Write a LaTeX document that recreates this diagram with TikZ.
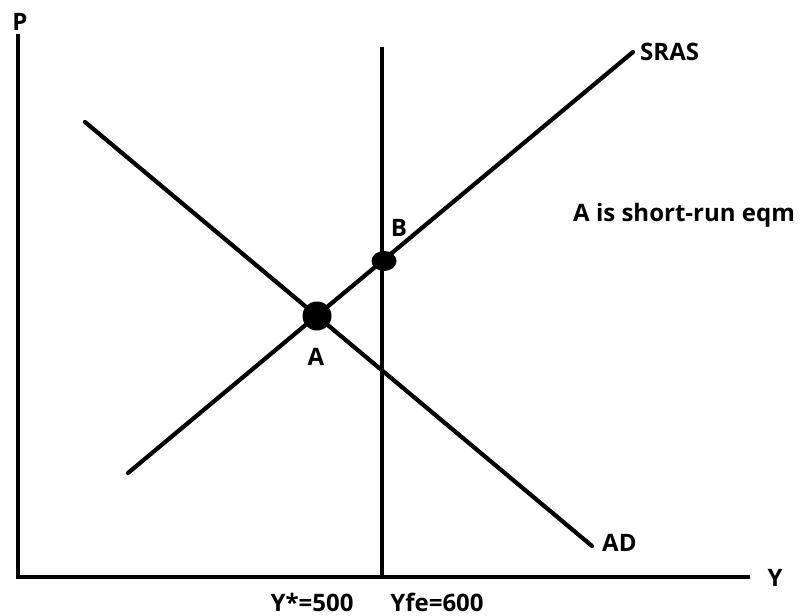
\documentclass[tikz,border=0pt]{standalone}
\usepackage{fontspec}
\setmainfont{Open Sans}
\usetikzlibrary{positioning,shapes.geometric}
\tikzset{
  axisline/.style={line width=4.2pt, draw=black},
  curveline/.style={line width=3.6pt, draw=black, line cap=round},
  lbl/.style={
    inner sep=0pt,
    font=\fontsize{20.5}{23}\selectfont\bfseries,
    text=black
  },
  eqdot/.style={fill=black, inner sep=0pt}
}
\begin{document}
\begin{tikzpicture}[x=0.03cm, y=-0.03cm]
      \useasboundingbox (0,0) rectangle (802,616);
      % axes
      \coordinate (origin) at (18,577);
      \coordinate (ptop) at (18,34);
      \coordinate (yend) at (750,577);
      \draw[axisline] (ptop) -- (origin) -- (yend);
      \node[lbl] (plab) at (20,22) {P};
      \node[lbl] (ylab) at (775,578) {Y};
      % curves
      \coordinate (sras0) at (128,473);
      \coordinate (sras1) at (633,52);
      \coordinate (ad0) at (85,122);
      \coordinate (ad1) at (592,546);
      \coordinate (yfe0) at (382,47);
      \coordinate (yfe1) at (382,577);
      \draw[curveline] (sras0) -- (sras1);
      \draw[curveline] (ad0) -- (ad1);
      \draw[curveline, line cap=butt] (yfe0) -- (yfe1);
      \node[lbl, anchor=west] (sraslab) at (640,52) {SRAS};
      \node[lbl, anchor=west] (adlab) at (602,543) {AD};
      % equilibria
      \node[eqdot, circle, minimum size=29*0.03cm] (dotA) at (317,316) {};
      \node[eqdot, ellipse, minimum width=25*0.03cm, minimum height=20*0.03cm] (dotB) at (384,261) {};
      \node[lbl] (alab) at (316,357) {A};
      \node[lbl] (blab) at (399,228) {B};
      \node[lbl, anchor=west] (note) at (573,215) {A is short-run eqm};
      \node[lbl] (ystar) at (312,602) {Y*=500};
      \node[lbl] (yfe) at (437,602) {Yfe=600};
    \end{tikzpicture}
\end{document}
